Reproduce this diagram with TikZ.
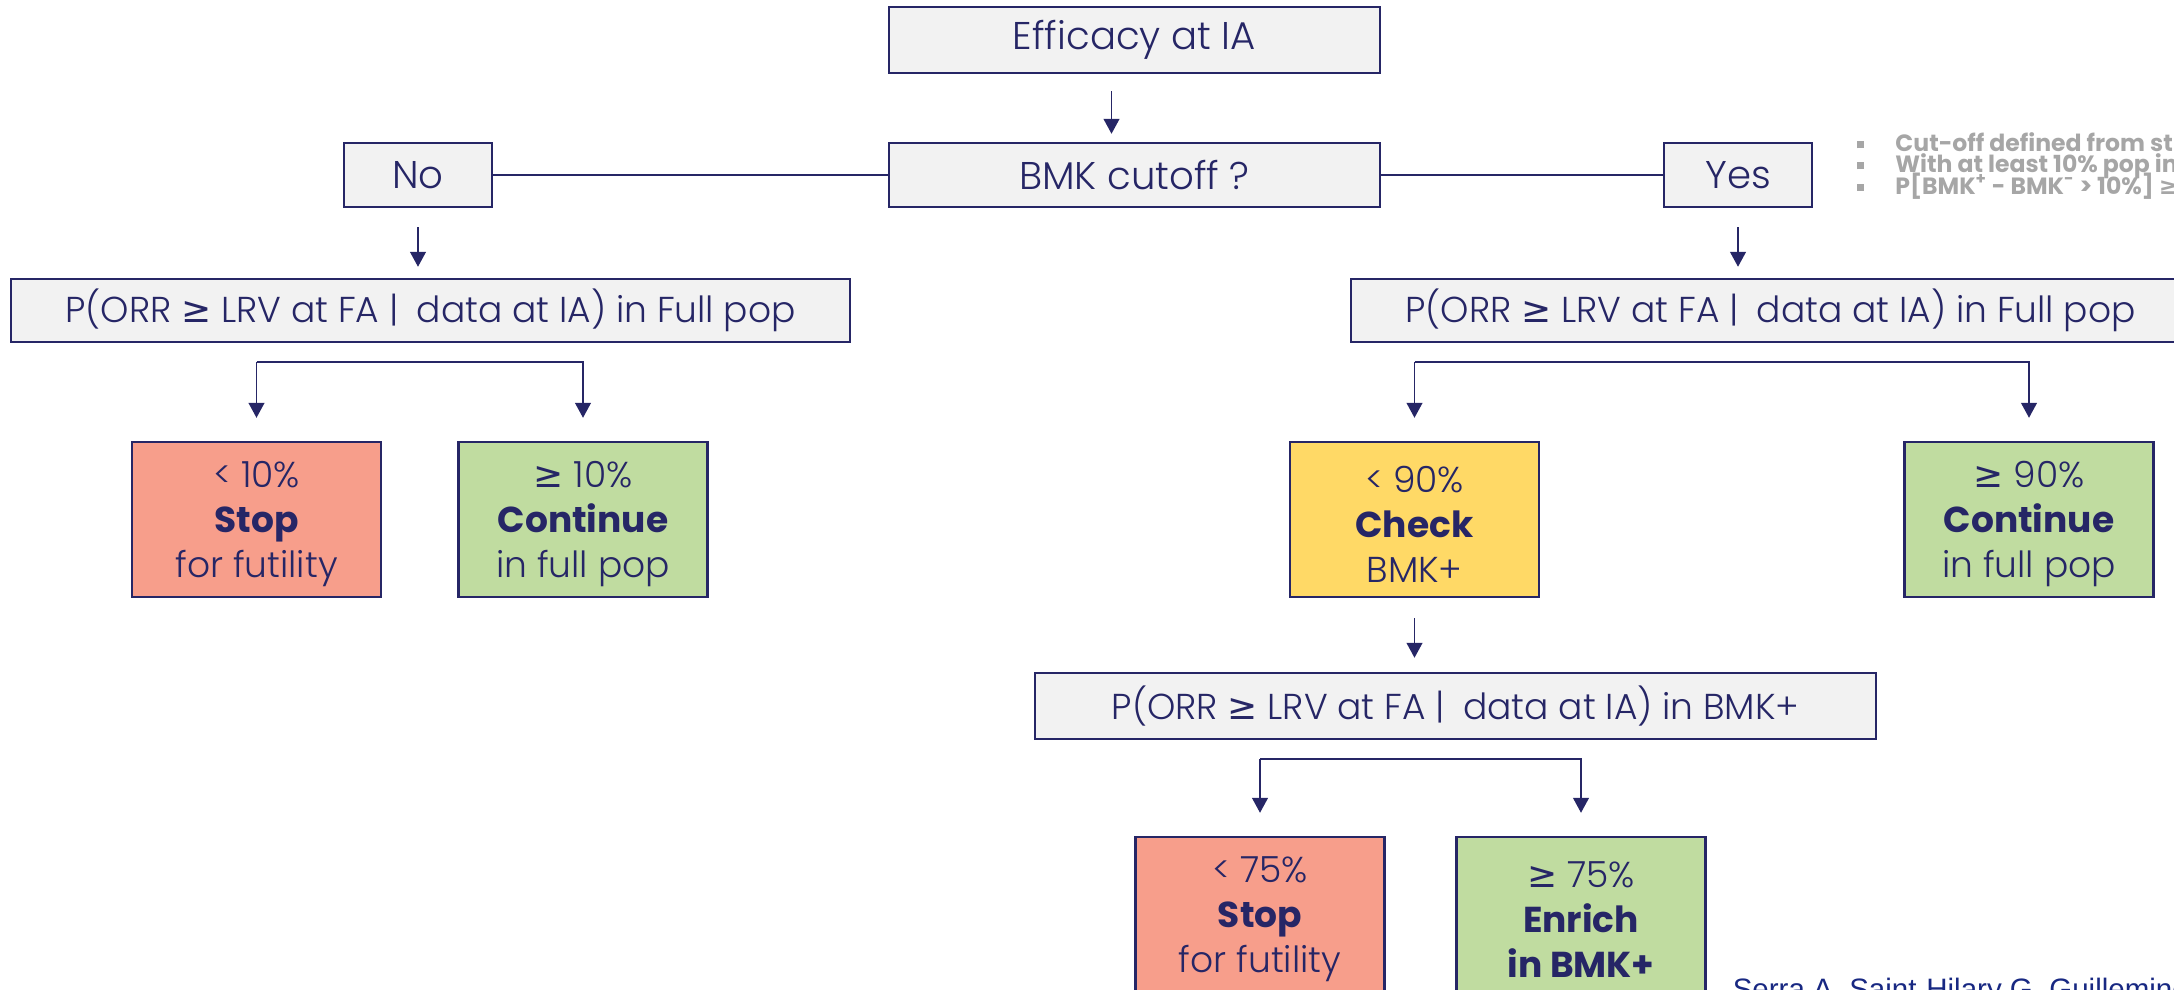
\documentclass[tikz,border=0pt]{standalone}
\usepackage{fontspec}
\setmainfont{Poppins}[UprightFont={* Light},BoldFont={* Bold}]
\newfontfamily\notefont{Poppins}
\newfontfamily\symfont{DejaVu Sans}
\newfontfamily\citefont{Liberation Sans}
\usetikzlibrary{positioning, arrows.meta}

\definecolor{navy}{RGB}{38,38,102}
\definecolor{boxgrey}{RGB}{242,242,242}
\definecolor{salmon}{RGB}{247,158,139}
\definecolor{leaf}{RGB}{192,220,160}
\definecolor{sun}{RGB}{255,217,102}
\definecolor{note}{RGB}{166,166,166}
\definecolor{citeblue}{RGB}{24,40,130}

\newcommand{\gesym}{{\symfont ≥}}
\newcommand{\bul}{\rule[2pt]{4pt}{4pt}\hspace{18pt}}
\newcommand{\topstrut}{\rule{0pt}{20pt}}
\newcommand{\tightlines}{\lineskiplimit=-20pt\relax}

\begin{document}
\begin{tikzpicture}[x=0.02cm,y=-0.02cm,->,>={Triangle[length=8.5pt,width=9pt]},
    line width=0.9pt,
    qbox/.style={draw=navy,line width=1.4pt,fill=boxgrey,text=navy,inner sep=0pt,
        font=\fontsize{20.5}{25}\selectfont},
    res/.style={draw=navy,line width=1.4pt,text=navy,inner sep=0pt,align=center,
        minimum width=4.98cm,minimum height=3.1cm,
        font=\fontsize{20.5}{25.6}\selectfont}]
    \useasboundingbox (0,0) rectangle (2174,990);
    \clip (0,0) rectangle (2174,990);

    \node[qbox,minimum width=9.82cm,minimum height=1.32cm,font=\fontsize{22}{26}\selectfont] (eff) at (1134.5,40) {Efficacy at IA};
    \node[qbox,minimum width=9.82cm,minimum height=1.28cm,font=\fontsize{22}{26}\selectfont] (bmk) at (1134.5,175) {BMK cutoff ?};
    \node[qbox,minimum width=2.96cm,minimum height=1.28cm,font=\fontsize{22}{26}\selectfont] (no) at (418,175) {No};
    \node[qbox,minimum width=2.96cm,minimum height=1.28cm,font=\fontsize{22}{26}\selectfont] (yes) at (1738,175) {Yes};

    \node[qbox,minimum width=16.78cm,minimum height=1.26cm] (fullL) at (430.5,310.5) {P(ORR \gesym{} LRV at FA |\enspace data at IA) in Full pop};
    \node[qbox,minimum width=16.78cm,minimum height=1.26cm] (fullR) at (1770.5,310.5) {P(ORR \gesym{} LRV at FA |\enspace data at IA) in Full pop};

    \node[res,fill=salmon] (stopL) at (256.5,519.5) {\topstrut< 10\%\\\textbf{Stop}\\for futility};
    \node[res,fill=leaf] (contL) at (583,519.5) {\topstrut\gesym{} 10\%\\\textbf{Continue}\\in full pop};
    \node[res,fill=sun] (check) at (1414.5,519.5) {\topstrut< 90\%\\\textbf{Check}\\BMK+};
    \node[res,fill=leaf] (contR) at (2029,519.5) {\topstrut\gesym{} 90\%\\\textbf{Continue}\\in full pop};

    \node[qbox,minimum width=16.82cm,minimum height=1.32cm] (bmkp) at (1455.5,706) {P(ORR \gesym{} LRV at FA |\enspace data at IA) in BMK+};

    \node[res,fill=salmon] (stopB) at (1260,914.5) {\topstrut< 75\%\\\textbf{Stop}\\for futility};
    \node[res,fill=leaf] (enrich) at (1581,914.5) {\topstrut\gesym{} 75\%\\\textbf{Enrich}\\\textbf{in BMK+}};

    % side notes and reference
    \node[anchor=west,inner sep=0pt,align=left,text=note,font=\notefont\bfseries\fontsize{13.4}{12}\selectfont\tightlines] (notes) at (1856,166)
        {\bul Cut-off defined from study\\\bul With at least 10\% pop in\\\bul P[BMK\textsuperscript{+} - BMK\textsuperscript{-} > 10\%] \gesym{} 0};
    \node[anchor=base west,inner sep=0pt,text=citeblue,font=\citefont\fontsize{16.8}{19}\selectfont] (cite) at (1732,999) {Serra A, Saint-Hilary G, Guilleminot};

    % links
    \draw[-,navy] (no) -- (bmk);
    \draw[-,navy] (bmk) -- (yes);
    \draw[navy,shorten <=0.34cm,shorten >=0.16cm] ([xshift=-0.46cm]eff.south) -- ([xshift=-0.46cm]bmk.north);
    \draw[navy,shorten <=0.38cm,shorten >=0.22cm] (no.south) -- (no.south |- fullL.north);
    \draw[navy,shorten <=0.38cm,shorten >=0.22cm] (yes.south) -- (yes.south |- fullR.north);
    \draw[navy,shorten <=0.4cm,shorten >=0.28cm] (check.south) -- (check.south |- bmkp.north);

    \foreach \top/\lft/\rgt in {fullL/stopL/contL, fullR/check/contR, bmkp/stopB/enrich} {
        \coordinate[below=0.38cm of \top] (br-\top);
        \draw[navy,shorten >=0.46cm] (\lft.north |- br-\top) -- (\lft.north);
        \draw[navy,shorten >=0.46cm] (\lft.north |- br-\top) -- (\rgt.north |- br-\top) -- (\rgt.north);
    }
\end{tikzpicture}
\end{document}
